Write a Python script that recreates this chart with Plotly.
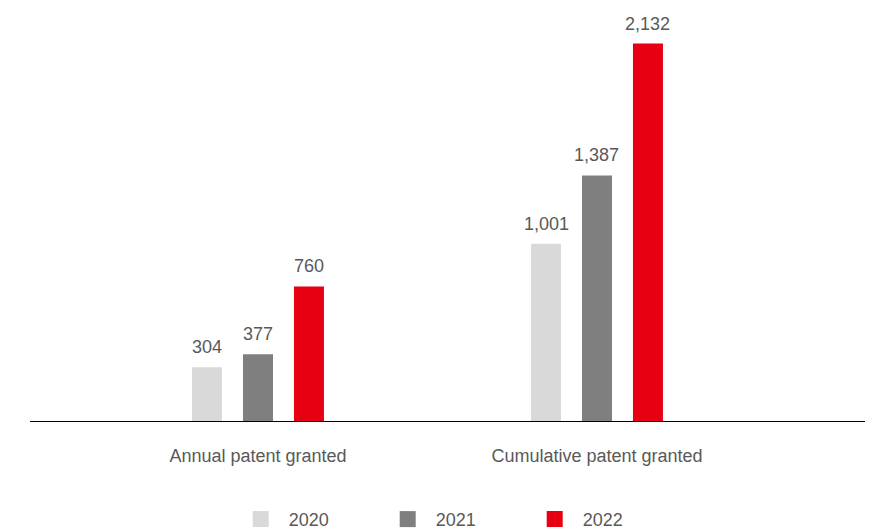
import plotly.graph_objects as go

# Patent counts per metric and year
categories = ["Annual patent granted", "Cumulative patent granted"]
years = ["2020", "2021", "2022"]
values_2020 = [304, 1001]
values_2021 = [377, 1387]
values_2022 = [760, 2132]
series = [values_2020, values_2021, values_2022]
colors = ["#d9d9d9", "#7f7f7f", "#e60012"]

TEXT = "#595959"
FONT = "Liberation Sans, Arial, sans-serif"
BARGAP = 0.549
BARGROUPGAP = 0.4115

fig = go.Figure()
for year, vals, col in zip(years, series, colors):
    fig.add_trace(go.Bar(
        x=categories, y=vals, name=year, marker=dict(color=col, line_width=0),
        showlegend=False, hoverinfo="skip",
    ))
    # legend-only entry with a larger square swatch
    fig.add_trace(go.Scatter(
        x=[None], y=[None], name=year, mode="markers",
        marker=dict(symbol="square", size=18, color=col), showlegend=True,
    ))

# value labels above each bar, placed at the grouped bar centres
slot = (1 - BARGAP) / len(years)
for j, vals in enumerate(series):
    offset = (j - (len(years) - 1) / 2) * slot
    for i, v in enumerate(vals):
        fig.add_annotation(
            x=i + offset, y=v, text=f"{v:,}", showarrow=False,
            yanchor="bottom", yshift=8,
            font=dict(size=18, color=TEXT, family=FONT),
        )

fig.update_layout(
    width=880, height=530,
    margin=dict(l=30, r=15, t=20, b=109),
    paper_bgcolor="white", plot_bgcolor="white",
    barmode="group", bargap=BARGAP, bargroupgap=BARGROUPGAP,
    font=dict(family=FONT, size=18, color=TEXT),
    xaxis=dict(
        type="category", range=[-0.6726, 1.7906],
        showline=True, linecolor="black", linewidth=1,
        ticks="", showgrid=False, zeroline=False,
        ticklabelstandoff=18,
        tickfont=dict(size=18, color=TEXT),
    ),
    yaxis=dict(
        range=[0, 2265], visible=False, showgrid=False, zeroline=False,
    ),
    legend=dict(
        orientation="h", xref="container", yref="container",
        x=0.515, xanchor="center", y=0.02, yanchor="middle",
        itemwidth=46, entrywidth=86, font=dict(size=18, color=TEXT),
        itemclick=False,
    ),
)

fig.write_html("out.html")
